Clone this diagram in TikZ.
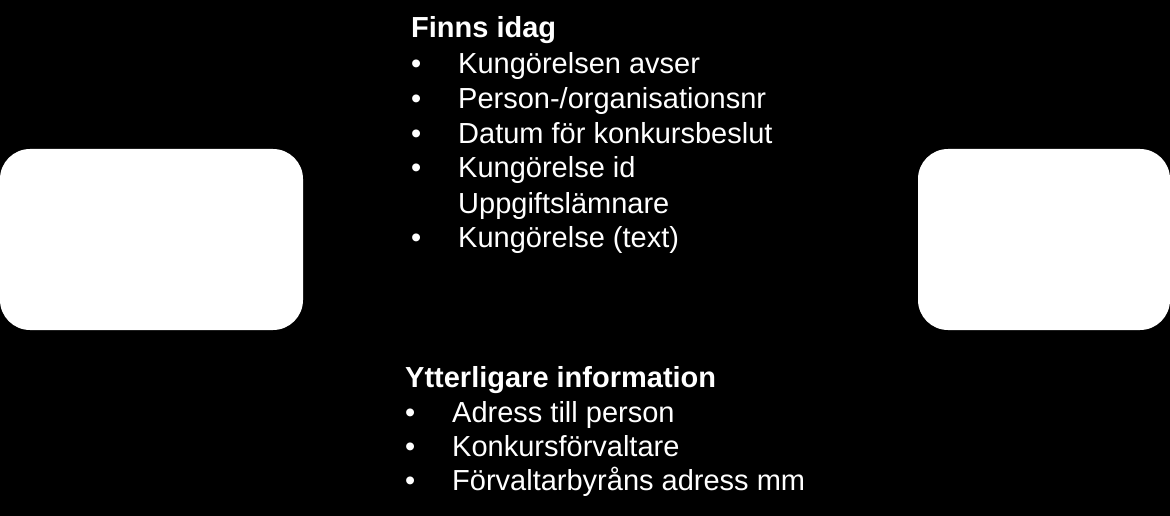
\documentclass[tikz,border=0pt]{standalone}
\usepackage{fontspec}
\setmainfont{Liberation Sans}
\begin{document}
\begin{tikzpicture}
        [x=1pt, y=-1pt,
        box/.style={rectangle, rounded corners=30pt, fill=white, inner sep=0pt},
        head/.style={anchor=base west, inner sep=0pt, text=white, font=\fontsize{29}{35}\selectfont\bfseries},
        item/.style={anchor=base west, inner sep=0pt, text=white, font=\fontsize{29}{35}\selectfont}]
        \fill[black] (0,0) rectangle (1170,516);
        \node[box, minimum width=303pt, minimum height=181pt] (kalla) at (151.5,239.5) {};
        \node[box, minimum width=252pt, minimum height=181pt] (mottagare) at (1044,239.5) {};

        \node[head] (finns) at (411,38) {Finns idag};
        \node[item] (b1) at (411,74) {•};
        \node[item] (t1) at (458,74) {Kungörelsen avser};
        \node[item] (b2) at (411,109) {•};
        \node[item] (t2) at (458,109) {Person-/organisationsnr};
        \node[item] (b3) at (411,144) {•};
        \node[item] (t3) at (458,144) {Datum för konkursbeslut};
        \node[item] (b4) at (411,178) {•};
        \node[item] (t4) at (458,178) {Kungörelse id};
        \node[item] (t5) at (458,213) {Uppgiftslämnare};
        \node[item] (b6) at (411,247) {•};
        \node[item] (t6) at (458,247) {Kungörelse (text)};

        \node[head] (ytter) at (405,387) {Ytterligare information};
        \node[item] (c1) at (405,422) {•};
        \node[item] (u1) at (452,422) {Adress till person};
        \node[item] (c2) at (405,456) {•};
        \node[item] (u2) at (452,456) {Konkursförvaltare};
        \node[item] (c3) at (405,490) {•};
        \node[item] (u3) at (452,490) {Förvaltarbyråns adress mm};
    \end{tikzpicture}
\end{document}
